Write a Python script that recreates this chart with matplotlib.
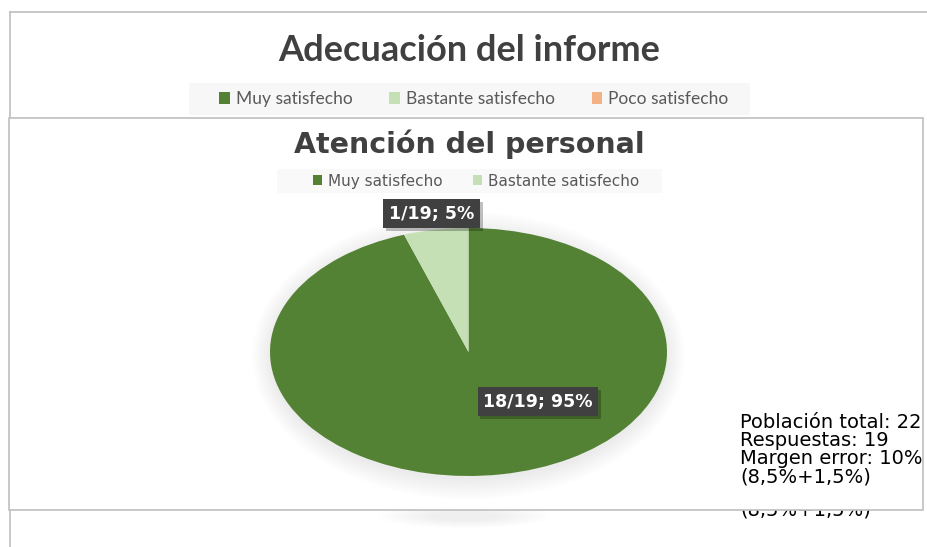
import numpy as np
import matplotlib
matplotlib.use("Agg")
import matplotlib.pyplot as plt
import matplotlib.patheffects as pe
from matplotlib.patches import Rectangle, Patch, Ellipse

# data
categories = ["Muy satisfecho", "Bastante satisfecho"]
responses = [18, 1]
total_resp = 19
colors = ["#548235", "#C5E0B4"]
back_categories = ["Muy satisfecho", "Bastante satisfecho", "Poco satisfecho"]
back_colors = ["#548235", "#C5E0B4", "#F4B183"]
info_lines = ["Población total: 22", "Respuestas: 19", "Margen error: 10%", "(8,5%+1,5%)"]

W, H = 928, 547


def px(x, y):
    return (x / W, 1 - y / H)


fig = plt.figure(figsize=(W / 100, H / 100), dpi=100)
fig.patch.set_facecolor("white")
TXT = "#404040"
GRID = "#BFBFBF"

# ---- background chart (Adecuación del informe) ----
fig.add_artist(plt.Line2D([10 / W, 1], [px(0, 12)[1]] * 2, color=GRID, lw=1.2, zorder=-5))
fig.add_artist(plt.Line2D([10 / W] * 2, [0, px(0, 12)[1]], color=GRID, lw=1.2, zorder=-5))
fig.text(*px(469, 61), "Adecuación del informe", ha="center", va="baseline",
         fontsize=26, fontweight="bold", color=TXT, family="Lato", zorder=-4)
fig.add_artist(Rectangle(px(189, 115), 561 / W, 32 / H, transform=fig.transFigure,
                         fc="#F7F7F7", ec="none", zorder=-4))
hb = [Patch(fc=c, ec="none") for c in back_colors]
lg = fig.legend(hb, back_categories, loc="center", bbox_to_anchor=px(474, 99), ncol=3,
                frameon=False, prop={"family": "Lato", "size": 12.5}, labelcolor="#595959",
                handlelength=0.62, handleheight=0.62, handletextpad=0.35, columnspacing=2.1)
lg.set_zorder(-4)
# shadow of the hidden pie + clipped info text
for k in range(8):
    fig.add_artist(Ellipse(px(465, 516), (170 - 14 * k) / W, (24 - 2 * k) / H,
                           transform=fig.transFigure, fc="#000000", alpha=0.006,
                           ec="none", zorder=-4))
fig.text(*px(740, 510), info_lines[-1], ha="left", va="center", fontsize=14,
         color="black", zorder=-4)

# ---- front chart (Atención del personal) ----
fig.add_artist(Rectangle(px(9, 510), 914 / W, 392 / H, transform=fig.transFigure,
                         fc="white", ec=GRID, lw=1.2, zorder=-2))
fig.text(*px(469, 153), "Atención del personal", ha="center", va="baseline",
         fontsize=20.5, fontweight="bold", color=TXT, zorder=1)
fig.add_artist(Rectangle(px(277, 193), 385 / W, 24 / H, transform=fig.transFigure,
                         fc="#F9F9F9", ec="none", zorder=1))
hf = [Patch(fc=c, ec="none") for c in colors]
lg2 = fig.legend(hf, categories, loc="center", bbox_to_anchor=px(476, 181), ncol=2,
                 frameon=False, prop={"size": 11}, labelcolor="#595959",
                 handlelength=0.6, handleheight=0.6, handletextpad=0.4, columnspacing=2.0)
lg2.set_zorder(2)

ax = fig.add_axes([270 / W, 1 - 476 / H, 397 / W, 248 / H])
ax.set_zorder(3)
# soft shadow
for k in range(10):
    ax.add_patch(Ellipse((0, -0.03), 2.0 + 0.02 * k, 2.0 + 0.035 * k, fc="black",
                         alpha=0.008, ec="none", zorder=0, clip_on=False))
wedges, _ = ax.pie(responses, colors=colors, startangle=90, counterclock=False,
                   wedgeprops={"linewidth": 0})
for w in wedges:
    w.set_zorder(2)
ax.set_aspect("auto")
ax.set_xlim(-1, 1)
ax.set_ylim(-1, 1)
ax.axis("off")

# data labels
fracs = np.array(responses) / total_resp
ang_small = np.deg2rad(90 + 360 * fracs[1] / 2)
label_pos = [(0.35, -0.40), (1.13 * np.cos(ang_small), 1.13 * np.sin(ang_small))]
for n, f, (lx, ly) in zip(responses, fracs, label_pos):
    t = ax.text(lx, ly, f"{n}/{total_resp}; {f * 100:.0f}%", ha="center", va="center",
                fontsize=12.5, fontweight="bold", color="white", zorder=5, clip_on=False,
                bbox=dict(boxstyle="square,pad=0.32", fc="#404040", ec="none"))
    t.get_bbox_patch().set_path_effects(
        [pe.withSimplePatchShadow(offset=(2, -2), shadow_rgbFace="black", alpha=0.25)])

# info block
for i, line in enumerate(info_lines):
    fig.text(*px(740, 423 + 18 * i), line, ha="left", va="center", fontsize=14,
             color="black", zorder=4)

fig.savefig("out.png", dpi=100)
